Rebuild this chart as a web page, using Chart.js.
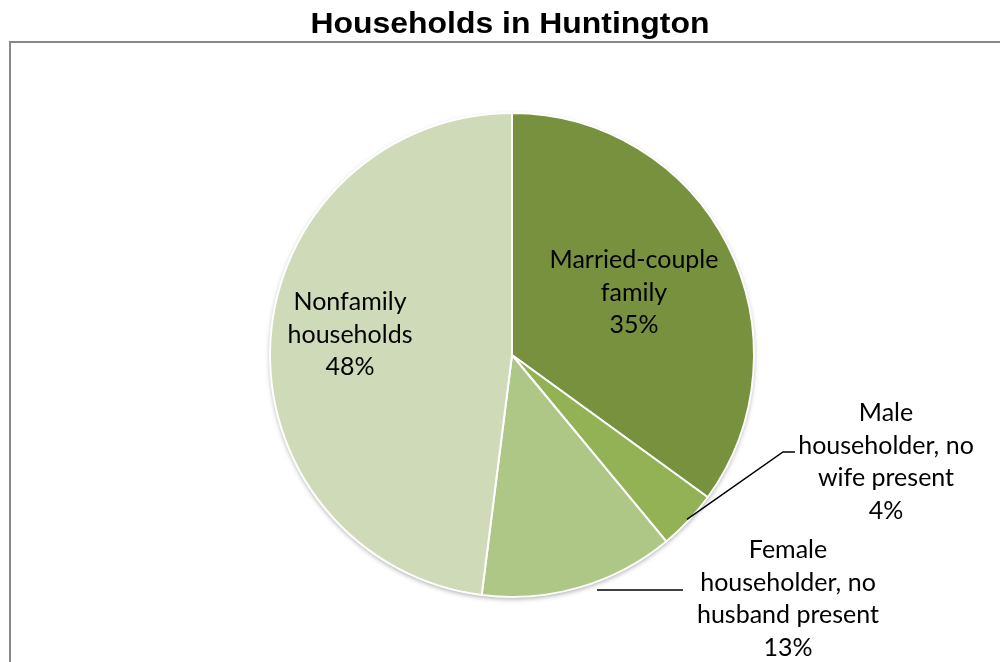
<!DOCTYPE html>
<html>
<head>
<meta charset="utf-8">
<script src="https://cdn.jsdelivr.net/npm/chart.js@4.4.0/dist/chart.umd.min.js"></script>
<style>
  html, body { margin: 0; padding: 0; background: #fff; }
  #wrap { width: 1000px; height: 662px; position: relative; }
</style>
</head>
<body>
<div id="wrap"><canvas id="pie" width="1000" height="662"></canvas></div>
<script>
// data
var categories = ['Married-couple family', 'Male householder, no wife present', 'Female householder, no husband present', 'Nonfamily households'];
var shares = [35, 4, 13, 48];
var sliceColors = ['#78913f', '#93b155', '#aec686', '#cedab8'];
var chartTitle = 'Households in Huntington';

// how each label is broken into lines, and where the label block sits
var labelLines = [
	['Married-couple', 'family'],
	['Male', 'householder, no', 'wife present'],
	['Female', 'householder, no', 'husband present'],
	['Nonfamily', 'households']
];
var labelSpots = [
	{x: 634, y: 260},
	{x: 886, y: 413},
	{x: 788, y: 550},
	{x: 350, y: 302}
];
var lineGap = 32.5;

function midPoint(arc, r){
	var a = (arc.startAngle + arc.endAngle) / 2;
	return {x: arc.x + Math.cos(a) * r, y: arc.y + Math.sin(a) * r};
}

var decorations = {
	id: 'decorations',
	beforeDraw: function(chart){
		var ctx = chart.ctx;
		ctx.save();
		ctx.fillStyle = '#fff';
		ctx.fillRect(0, 0, chart.width, chart.height);
		// outer frame, runs off the right and bottom
		ctx.strokeStyle = '#878787';
		ctx.lineWidth = 2;
		ctx.strokeRect(10, 42, 1000, 700);
		// title
		ctx.fillStyle = '#000';
		ctx.font = 'bold 29px "Liberation Sans", Arial, sans-serif';
		ctx.textBaseline = 'alphabetic';
		var w = ctx.measureText(chartTitle).width;
		ctx.translate(510, 33);
		ctx.scale(399 / w, 1);
		ctx.textAlign = 'center';
		ctx.fillText(chartTitle, 0, 0);
		ctx.restore();
	},
	beforeDatasetsDraw: function(chart){
		// soft shadow under the whole pie
		var arc = chart.getDatasetMeta(0).data[0];
		var ctx = chart.ctx;
		ctx.save();
		ctx.shadowColor = 'rgba(0,0,0,0.35)';
		ctx.shadowBlur = 5;
		ctx.shadowOffsetY = 2;
		ctx.fillStyle = '#ddd';
		ctx.beginPath();
		ctx.arc(arc.x, arc.y, arc.outerRadius, 0, Math.PI * 2);
		ctx.fill();
		ctx.restore();
	},
	afterDatasetsDraw: function(chart){
		var ctx = chart.ctx;
		var arcs = chart.getDatasetMeta(0).data;
		ctx.save();
		// leader lines for the two small slices
		ctx.strokeStyle = '#000';
		ctx.lineWidth = 1.5;
		var p = midPoint(arcs[1], arcs[1].outerRadius - 2);
		ctx.beginPath();
		ctx.moveTo(p.x, p.y);
		ctx.lineTo(783, 452);
		ctx.lineTo(795, 452);
		ctx.stroke();
		ctx.beginPath();
		ctx.moveTo(597, 590);
		ctx.lineTo(683, 590);
		ctx.stroke();

		ctx.fillStyle = '#000';
		ctx.font = '25px Lato, "Open Sans", sans-serif';
		ctx.textAlign = 'center';
		ctx.textBaseline = 'middle';
		for(var i = 0; i < categories.length; i++){
			var lines = labelLines[i].concat([shares[i] + '%']);
			for(var j = 0; j < lines.length; j++){
				ctx.fillText(lines[j], labelSpots[i].x, labelSpots[i].y + j * lineGap);
			}
		}
		ctx.restore();
	}
};

new Chart(document.getElementById('pie'), {
	type: 'pie',
	data: {
		labels: categories,
		datasets: [{
			data: shares,
			backgroundColor: sliceColors,
			borderColor: '#ffffff',
			borderWidth: 2
		}]
	},
	options: {
		responsive: false,
		animation: false,
		layout: {padding: {left: 269, right: 245, top: 112, bottom: 64}},
		plugins: {
			legend: {display: false},
			title: {display: false},
			tooltip: {enabled: false}
		}
	},
	plugins: [decorations]
});
</script>
</body>
</html>
